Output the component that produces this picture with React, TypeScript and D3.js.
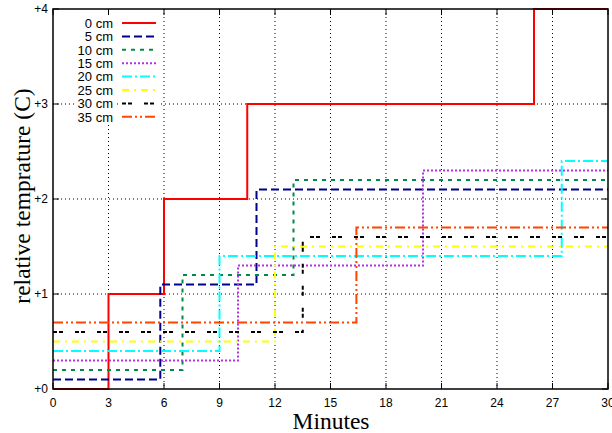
import React from "react";
import * as d3 from "d3";

const seriesNames = ["0 cm", "5 cm", "10 cm", "15 cm", "20 cm", "25 cm", "30 cm", "35 cm"];
const series0: [number, number][] = [[0, 0], [3, 1], [6, 2], [10.5, 3], [26, 4], [30, 4]];
const series5: [number, number][] = [[0, 0.1], [5.8, 1.1], [11, 2.1], [30, 2.1]];
const series10: [number, number][] = [[0, 0.2], [7, 1.2], [13, 2.2], [30, 2.2]];
const series15: [number, number][] = [[0, 0.3], [10, 1.3], [20, 2.3], [30, 2.3]];
const series20: [number, number][] = [[0, 0.4], [9, 1.4], [27.5, 2.4], [30, 2.4]];
const series25: [number, number][] = [[0, 0.5], [12, 1.5], [30, 1.5]];
const series30: [number, number][] = [[0, 0.6], [13.5, 1.6], [30, 1.6]];
const series35: [number, number][] = [[0, 0.7], [16.4, 1.7], [30, 1.7]];
const allSeries = [series0, series5, series10, series15, series20, series25, series30, series35];

const xTicks = [0, 3, 6, 9, 12, 15, 18, 21, 24, 27, 30];
const yTicks = [0, 1, 2, 3, 4];
const yTickLabels = ["+0", "+1", "+2", "+3", "+4"];

const colors = ["#ff0000", "#00008b", "#008a4a", "#b431e6", "#00ffff", "#ffff00", "#000000", "#ff4500"];
const dashes = ["none", "8,4", "4,5", "2,2", "10,3,2,3", "7,5,2,5", "4,2,4,12", "10,3,2,3,2,3"];

export default function App() {
  const W = 612, H = 433;
  const left = 53, right = 608, top = 9, bottom = 389;
  const x = d3.scaleLinear().domain([0, 30]).range([left, right]);
  const y = d3.scaleLinear().domain([0, 4]).range([bottom, top]);
  const line = d3.line<[number, number]>().x(d => x(d[0])).y(d => y(d[1])).curve(d3.curveStepAfter);
  const font = "'Liberation Sans', Arial, sans-serif";
  const serif = "'Liberation Serif', 'Times New Roman', serif";
  const tick = 6;
  return (
    <svg width={W} height={H} style={{ position: "absolute", left: 0, top: 0, background: "#fff" }}>
      <rect x={0} y={0} width={W} height={H} fill="#fff" />
      {/* grid */}
      {xTicks.slice(1, -1).map(t => (
        <line key={"gx" + t} x1={x(t)} x2={x(t)} y1={top} y2={bottom} stroke="#000" strokeWidth={1} strokeDasharray="1,3" />
      ))}
      {yTicks.slice(1, -1).map(t => (
        <line key={"gy" + t} x1={left} x2={right} y1={y(t)} y2={y(t)} stroke="#000" strokeWidth={1} strokeDasharray="1,3" />
      ))}
      {/* ticks */}
      {xTicks.map(t => (
        <g key={"tx" + t}>
          <line x1={x(t)} x2={x(t)} y1={bottom} y2={bottom - tick} stroke="#000" />
          <line x1={x(t)} x2={x(t)} y1={top} y2={top + tick} stroke="#000" />
          <text x={x(t)} y={bottom + 18} textAnchor="middle" fontFamily={font} fontSize={12}>{t}</text>
        </g>
      ))}
      {yTicks.map((t, i) => (
        <g key={"ty" + t}>
          <line x1={left} x2={left + tick} y1={y(t)} y2={y(t)} stroke="#000" />
          <line x1={right} x2={right - tick} y1={y(t)} y2={y(t)} stroke="#000" />
          <text x={left - 5} y={y(t) + 4} textAnchor="end" fontFamily={font} fontSize={12}>{yTickLabels[i]}</text>
        </g>
      ))}
      {/* series */}
      {allSeries.map((s, i) => (
        <path key={"s" + i} d={line(s) || ""} fill="none" stroke={colors[i]} strokeWidth={2}
          strokeDasharray={dashes[i] === "none" ? undefined : dashes[i]} />
      ))}
      {/* border */}
      <rect x={left} y={top} width={right - left} height={bottom - top} fill="none" stroke="#000" strokeWidth={1.5} />
      {/* legend */}
      {seriesNames.map((n, i) => {
        const ly = 23 + i * 13.4;
        return (
          <g key={"l" + i}>
            <rect x={76} y={ly - 6.7} width={38} height={13.4} fill="#fff" />
            <rect x={120} y={ly - 3} width={38} height={6} fill="#fff" />
            <text x={113} y={ly + 4.7} textAnchor="end" fontFamily={font} fontSize={13}>{n}</text>
            <line x1={122} x2={156} y1={ly} y2={ly} stroke={colors[i]} strokeWidth={2}
              strokeDasharray={dashes[i] === "none" ? undefined : dashes[i]} />
          </g>
        );
      })}
      {/* axis titles */}
      <text x={331} y={429} textAnchor="middle" fontFamily={serif} fontSize={23.5}>Minutes</text>
      <text transform={`translate(30,196) rotate(-90)`} textAnchor="middle" fontFamily={serif} fontSize={23.5}>relative temprature (C)</text>
    </svg>
  );
}
